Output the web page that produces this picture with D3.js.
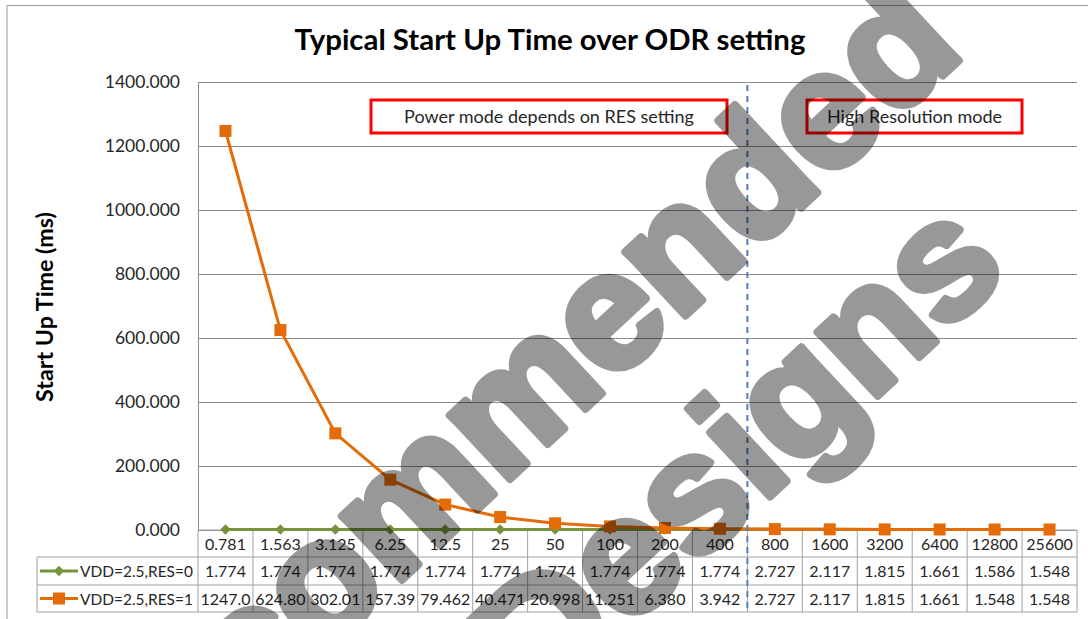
<!DOCTYPE html>
<html>
<head>
<meta charset="utf-8">
<script src="https://cdn.jsdelivr.net/npm/d3@7"></script>
<style>
html,body{margin:0;padding:0;background:#fff;}
svg{display:block;}
</style>
</head>
<body>
<svg id="chart" width="1088" height="619"></svg>
<script>
// ---- data ----
const categories = ["0.781","1.563","3.125","6.25","12.5","25","50","100","200","400","800","1600","3200","6400","12800","25600"];
const seriesNames = ["VDD=2.5,RES=0","VDD=2.5,RES=1"];
const res0 = [1.774,1.774,1.774,1.774,1.774,1.774,1.774,1.774,1.774,1.774,2.727,2.117,1.815,1.661,1.586,1.548];
const res1 = [1247.0,624.80,302.01,157.39,79.462,40.471,20.998,11.251,6.380,3.942,2.727,2.117,1.815,1.661,1.548,1.548];
const yTicks = [0,200,400,600,800,1000,1200,1400];
const titleText = "Typical Start Up Time over ODR setting";
const yTitle = "Start Up Time (ms)";
const note1 = "Power mode depends on RES setting";
const note2 = "High Resolution mode";
const dividerAfter = "400";
const watermark = ["Not Recommended", "for New Designs"];

// ---- layout ----
const svg = d3.select("#chart");
const L = 198, R = 1077, T = 82, B = 530;
const rowH = [530, 557, 585, 612];
const tableLeft = 37;
const orange = "#E36C09", green = "#77933C";
const font = "Lato, 'Open Sans', sans-serif";

const x = d3.scaleBand().domain(categories).range([L, R]);
const y = d3.scaleLinear().domain([0, 1400]).range([B, T]);

function fit(sel, target) {
  const w = sel.node().getComputedTextLength();
  const fs = parseFloat(sel.attr("font-size"));
  sel.attr("font-size", fs * target / w);
}

// outer chart border
svg.append("path").attr("d", "M7,619 V5.5 H1088").attr("fill", "none").attr("stroke", "#9a9a9a").attr("stroke-width", 1);

// title
const t = svg.append("text").attr("x", 550).attr("y", 50).attr("text-anchor", "middle")
  .attr("font-family", font).attr("font-weight", "bold").attr("font-size", 26).attr("fill", "#000").text(titleText);
fit(t, 511);

// y axis with gridlines
const yAxis = d3.axisLeft(y).tickValues(yTicks).tickFormat(d3.format(".3f"))
  .tickSize(-(R - L)).tickSizeOuter(0).tickPadding(18);
const ga = svg.append("g").attr("transform", `translate(${L},0)`).call(yAxis);
ga.select(".domain").attr("stroke", "#8c8c8c");
ga.selectAll(".tick line").attr("stroke", "#8c8c8c").attr("stroke-width", 1);
ga.selectAll(".tick text").attr("font-family", font).attr("font-size", 17.5).attr("fill", "#262626");

// y title
const yt = svg.append("text").attr("transform", "translate(53,307) rotate(-90)").attr("text-anchor", "middle")
  .attr("font-family", font).attr("font-weight", "bold").attr("font-size", 19).attr("fill", "#000").text(yTitle);
fit(yt, 190);

// annotation boxes
function note(x0, x1, txt, tw) {
  svg.append("rect").attr("x", x0).attr("y", 100).attr("width", x1 - x0).attr("height", 33)
    .attr("fill", "#fff").attr("stroke", "#FF0000").attr("stroke-width", 3);
  const n = svg.append("text").attr("x", (x0 + x1) / 2).attr("y", 123).attr("text-anchor", "middle")
    .attr("font-family", font).attr("font-size", 16).attr("fill", "#262626").text(txt);
  fit(n, tw);
}
note(371, 727, note1, 290);
note(807, 1022, note2, 175);

// data table
const tbl = svg.append("g").attr("stroke", "#a0a0a0").attr("stroke-width", 1);
tbl.append("line").attr("x1", L).attr("x2", R).attr("y1", rowH[0]).attr("y2", rowH[0]);
[1, 2, 3].forEach(i => tbl.append("line").attr("x1", tableLeft).attr("x2", R).attr("y1", rowH[i]).attr("y2", rowH[i]));
tbl.append("line").attr("x1", tableLeft).attr("x2", tableLeft).attr("y1", rowH[1]).attr("y2", rowH[3]);
categories.forEach(c => tbl.append("line").attr("x1", x(c)).attr("x2", x(c)).attr("y1", rowH[0]).attr("y2", rowH[3]));
tbl.append("line").attr("x1", R).attr("x2", R).attr("y1", rowH[0]).attr("y2", rowH[3]);

const cellFmt = v => d3.format(".3f")(v).slice(0, 6);
const rows = [categories, res0.map(cellFmt), res1.map(cellFmt)];
rows.forEach((r, i) => {
  const cy = (rowH[i] + rowH[i + 1]) / 2 + 6;
  svg.append("g").selectAll("text").data(r).join("text")
    .attr("x", (d, j) => x(categories[j]) + x.bandwidth() / 2).attr("y", cy)
    .attr("text-anchor", "middle").attr("font-family", font).attr("font-size", 16).attr("fill", "#262626")
    .text(d => d);
});

// series lines
const line = d3.line().x((d, i) => x(categories[i]) + x.bandwidth() / 2).y(d => y(d));
svg.append("path").datum(res0).attr("d", line).attr("fill", "none").attr("stroke", green).attr("stroke-width", 3);
svg.append("g").selectAll("path").data(res0).join("path")
  .attr("transform", (d, i) => `translate(${x(categories[i]) + x.bandwidth() / 2},${y(d)})`)
  .attr("d", d3.symbol(d3.symbolDiamond2, 70)).attr("fill", green);
svg.append("path").datum(res1).attr("d", line).attr("fill", "none").attr("stroke", orange).attr("stroke-width", 3);
svg.append("g").selectAll("rect").data(res1).join("rect")
  .attr("x", (d, i) => x(categories[i]) + x.bandwidth() / 2 - 6).attr("y", d => y(d) - 6)
  .attr("width", 12).attr("height", 12).attr("fill", orange);

// legend keys in table
[[green, "diamond"], [orange, "square"]].forEach(([col, shape], i) => {
  const cy = (rowH[i + 1] + rowH[i + 2]) / 2;
  svg.append("line").attr("x1", 40).attr("x2", 78).attr("y1", cy).attr("y2", cy).attr("stroke", col).attr("stroke-width", 3);
  if (shape === "diamond") {
    svg.append("path").attr("transform", `translate(59,${cy})`).attr("d", d3.symbol(d3.symbolDiamond2, 70)).attr("fill", col);
  } else {
    svg.append("rect").attr("x", 53).attr("y", cy - 6).attr("width", 12).attr("height", 12).attr("fill", col);
  }
  const lt = svg.append("text").attr("x", 80).attr("y", cy + 6).attr("font-family", font).attr("font-size", 16)
    .attr("fill", "#262626").text(seriesNames[i]);
  fit(lt, 113);
});

// divider between modes
const dx = x(dividerAfter) + x.bandwidth();
svg.append("line").attr("x1", dx).attr("x2", dx).attr("y1", 85).attr("y2", 612)
  .attr("stroke", "#4F81BD").attr("stroke-width", 2).attr("stroke-dasharray", "6,5");

// watermark (semi-transparent overlay)
const wm = svg.append("g").attr("transform", "translate(967,53) rotate(-43)").attr("opacity", 0.4)
  .attr("font-family", "'Liberation Sans', Arial, sans-serif").attr("font-weight", "bold")
  .attr("font-size", 166).attr("fill", "#000").attr("stroke", "#000").attr("stroke-width", 8)
  .attr("stroke-linejoin", "round").attr("text-anchor", "end");
wm.append("text").attr("x", 0).attr("y", 0).text(watermark[0]);
wm.append("text").attr("x", -117).attr("y", 190).text(watermark[1]);
</script>
</body>
</html>
